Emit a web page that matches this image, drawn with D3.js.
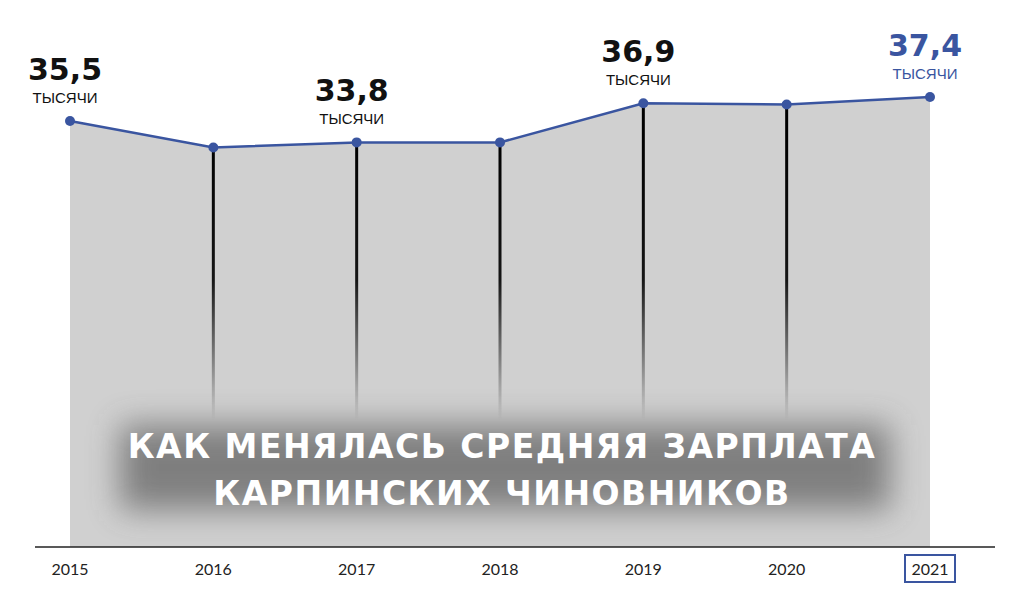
<!DOCTYPE html>
<html><head><meta charset="utf-8">
<script src="https://cdn.jsdelivr.net/npm/d3@7"></script>
<style>body{margin:0;background:#fff}svg{display:block}</style>
</head><body><div id="chart"></div>
<script>
// data
const years = ['2015','2016','2017','2018','2019','2020','2021'];
const salary = [35.5, 33.4, 33.8, 33.8, 36.9, 36.8, 37.4];
const labelled = ['35,5', null, '33,8', null, '36,9', null, '37,4'];
const titleLines = ['КАК МЕНЯЛАСЬ СРЕДНЯЯ ЗАРПЛАТА', 'КАРПИНСКИХ ЧИНОВНИКОВ'];

const width = 1024, height = 597;
const blue = '#3a55a0';

let svg = d3.select('#chart').append('svg').attr('width', width).attr('height', height);

let x = d3.scalePoint().domain(years).range([70, 930]);
let y = d3.scaleLinear().domain([1.7, 37.4]).range([547, 97]);

let defs = svg.append('defs');
let grad = defs.append('linearGradient').attr('id', 'fade')
    .attr('gradientUnits', 'userSpaceOnUse').attr('x1', 0).attr('x2', 0).attr('y1', 140).attr('y2', 420);
grad.append('stop').attr('offset', 0).attr('stop-color', '#000').attr('stop-opacity', 1);
grad.append('stop').attr('offset', 0.5).attr('stop-color', '#000').attr('stop-opacity', 0.9);
grad.append('stop').attr('offset', 1).attr('stop-color', '#000').attr('stop-opacity', 0);
let blur = defs.append('filter').attr('id', 'glow').attr('x', '-20%').attr('y', '-60%').attr('width', '140%').attr('height', '220%');
blur.append('feGaussianBlur').attr('stdDeviation', 16);

const pts = years.map((d, i) => ({year: d, v: salary[i], label: labelled[i]}));

// grey area
svg.append('path').datum(pts)
    .attr('fill', '#d0d0d0')
    .attr('d', d3.area().x(d => x(d.year)).y0(y(1.7)).y1(d => y(d.v)));

// fading drop lines for the inner years
svg.append('g').selectAll('line')
    .data(pts.slice(1, -1)).enter().append('line')
    .attr('x1', d => x(d.year)).attr('x2', d => x(d.year) + 0.01)
    .attr('y1', d => y(d.v)).attr('y2', 420)
    .attr('stroke', 'url(#fade)').attr('stroke-width', 3);

// line + dots
svg.append('path').datum(pts)
    .attr('fill', 'none').attr('stroke', blue).attr('stroke-width', 2.5)
    .attr('d', d3.line().x(d => x(d.year)).y(d => y(d.v)));
svg.append('g').selectAll('circle').data(pts).enter().append('circle')
    .attr('cx', d => x(d.year)).attr('cy', d => y(d.v)).attr('r', 5).attr('fill', blue);

// value labels
let lab = svg.append('g').selectAll('g').data(pts.filter(d => d.label)).enter().append('g')
    .attr('transform', d => 'translate(' + (x(d.year) - 5) + ',' + y(d.v) + ')');
lab.append('text').attr('y', -18).attr('text-anchor', 'middle')
    .attr('font-family', 'Liberation Sans, Arial').attr('font-size', 15)
    .attr('fill', d => d.year === '2021' ? blue : '#111').text('ТЫСЯЧИ');
lab.append('text').attr('y', -41).attr('text-anchor', 'middle')
    .attr('font-family', 'DejaVu Sans, sans-serif').attr('font-weight', 'bold').attr('font-size', 30)
    .attr('fill', d => d.year === '2021' ? blue : '#111').text(d => d.label);

// x axis
svg.append('line').attr('x1', 35).attr('x2', 995).attr('y1', 547).attr('y2', 547)
    .attr('stroke', '#222').attr('stroke-width', 1.5);
svg.append('g').selectAll('text').data(years).enter().append('text')
    .attr('x', d => x(d)).attr('y', 575).attr('text-anchor', 'middle')
    .attr('font-family', 'Lato, sans-serif').attr('font-size', 16).attr('fill', '#222').text(d => d);
svg.append('rect').attr('x', x('2021') - 25).attr('y', 555).attr('width', 50).attr('height', 27)
    .attr('fill', 'none').attr('stroke', blue).attr('stroke-width', 2);

// title with dark glow
svg.append('rect').attr('x', 120).attr('y', 425).attr('width', 770).attr('height', 85)
    .attr('fill', '#4a4a4a').attr('opacity', 0.6).attr('filter', 'url(#glow)');
svg.append('g').selectAll('text').data(titleLines).enter().append('text')
    .attr('x', 502).attr('y', (d, i) => 458 + i * 47).attr('text-anchor', 'middle')
    .attr('font-family', 'DejaVu Sans, sans-serif').attr('font-weight', 'bold').attr('font-size', 33)
    .attr('letter-spacing', 1.5).attr('fill', '#fff').text(d => d);
</script></body></html>
